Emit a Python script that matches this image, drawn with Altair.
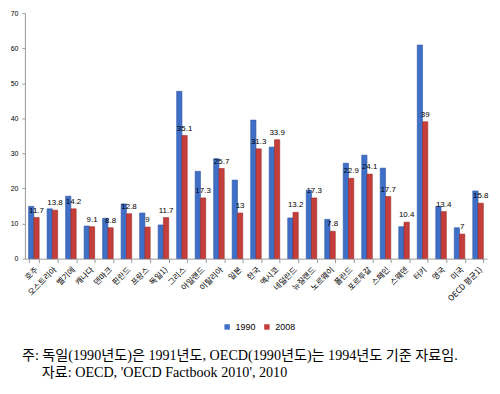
import altair as alt
import pandas as pd

countries = ["호주", "오스트리아", "벨기에", "캐나다", "덴마크", "핀란드", "프랑스", "독일1)",
             "그리스", "아일랜드", "이탈리아", "일본", "한국", "멕시코", "네덜란드", "뉴질랜드",
             "노르웨이", "폴란드", "포르투갈", "스페인", "스웨덴", "터키", "영국", "미국", "OECD 평균1)"]
v1990 = [14.9, 14.2, 17.8, 9.3, 11.5, 15.6, 13.0, 9.6, 47.7, 24.9, 28.5, 22.4, 39.5, 31.8,
         11.6, 19.5, 11.2, 27.2, 29.5, 25.8, 9.1, 60.9, 14.9, 8.8, 19.3]
v2008 = [11.7, 13.8, 14.2, 9.1, 8.8, 12.8, 9, 11.7, 35.1, 17.3, 25.7, 13, 31.3, 33.9,
         13.2, 17.3, 7.8, 22.9, 24.1, 17.7, 10.4, 39, 13.4, 7, 15.8]
years = ["1990", "2008"]
y_ticks = [0, 10, 20, 30, 40, 50, 60, 70]
notes = ["주: 독일(1990년도)은 1991년도, OECD(1990년도)는 1994년도 기준 자료임.",
         "자료: OECD, 'OECD Factbook 2010', 2010"]

rows = []
for c, a, b in zip(countries, v1990, v2008):
    rows.append({"country": c, "year": years[0], "value": a})
    rows.append({"country": c, "year": years[1], "value": b})
df = pd.DataFrame(rows)
df_lab = df[df["year"] == "2008"].copy()
df_lab["label"] = df_lab["value"].map(lambda v: f"{v:g}")

xaxis = alt.Axis(labelAngle=-45, labelFontSize=8, labelColor="#000",
                 tickBand="extent", tickSize=4, domainColor="#999",
                 tickColor="#999", labelPadding=3, labelFont="Noto Sans CJK KR")
yaxis = alt.Axis(values=y_ticks, grid=False, labelFontSize=7,
                 labelColor="#000", tickSize=3, domainColor="#999",
                 tickColor="#999", labelFont="Liberation Sans",
                 labelOverlap=False, labelFlush=False, labelPadding=4)
xscale = alt.Scale(paddingInner=0.43, paddingOuter=0.2)
yscale = alt.Scale(domain=[0, 70], nice=False)

bars = alt.Chart(df).mark_bar(strokeWidth=0.6).encode(
    x=alt.X("country:N", sort=countries, title=None, scale=xscale, axis=xaxis),
    y=alt.Y("value:Q", title=None, scale=yscale, axis=yaxis),
    xOffset=alt.XOffset("year:N", scale=alt.Scale(paddingInner=0, paddingOuter=0)),
    color=alt.Color("year:N", scale=alt.Scale(domain=years, range=["#3F6FC6", "#C43E3B"]),
                    legend=alt.Legend(title=None, orient="none", legendX=199, legendY=311,
                                      direction="horizontal", symbolType="square",
                                      symbolSize=30, labelFontSize=9, columnPadding=6,
                                      labelFont="Liberation Sans", labelColor="#000",
                                      symbolStrokeWidth=0)),
    stroke=alt.Stroke("year:N", scale=alt.Scale(domain=years, range=["#2A55A5", "#9C2A28"]),
                      legend=None),
)

labels = alt.Chart(df_lab).mark_text(fontSize=8, baseline="bottom", dy=-3,
                                     font="Liberation Sans", color="#000").encode(
    x=alt.X("country:N", sort=countries, title=None, scale=xscale, axis=xaxis),
    xOffset=alt.XOffset("year:N", scale=alt.Scale(domain=years)),
    y=alt.Y("value:Q", title=None, scale=yscale, axis=yaxis),
    text="label:N",
)

df_notes = pd.DataFrame({"t": notes, "i": [0, 1]})
note1 = alt.Chart(df_notes[df_notes["i"] == 0]).mark_text(
    align="left", baseline="middle", fontSize=14.2, font="Liberation Serif, Noto Sans CJK KR",
    color="#000").encode(x=alt.value(-3), y=alt.value(345), text="t:N")
note2 = alt.Chart(df_notes[df_notes["i"] == 1]).mark_text(
    align="left", baseline="middle", fontSize=14.2, font="Liberation Serif, Noto Sans CJK KR",
    color="#000").encode(x=alt.value(17), y=alt.value(362), text="t:N")

chart = alt.layer(bars, labels, note1, note2).properties(
    width=465, height=247,
    autosize=alt.AutoSizeParams(type="none"),
    padding={"left": 17, "top": 4, "right": 5, "bottom": 128},
).configure_view(stroke=None)

chart.save("out.html", embed_options={"renderer": "svg", "actions": False})
